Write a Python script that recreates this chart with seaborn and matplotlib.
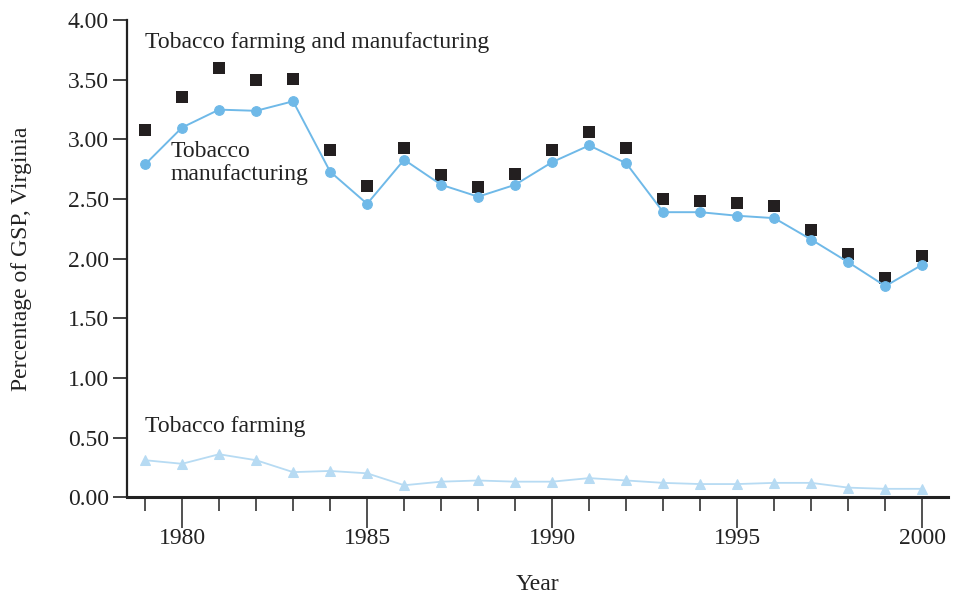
import numpy as np
import pandas as pd
import matplotlib
matplotlib.use("Agg")
import matplotlib.pyplot as plt
import seaborn as sns
from matplotlib.ticker import MultipleLocator, FormatStrFormatter

years = list(range(1979, 2001))
total = [3.08, 3.36, 3.60, 3.50, 3.51, 2.91, 2.61, 2.93, 2.70, 2.60, 2.71,
         2.91, 3.06, 2.93, 2.50, 2.48, 2.47, 2.44, 2.24, 2.04, 1.84, 2.02]
manufacturing = [2.79, 3.10, 3.25, 3.24, 3.32, 2.73, 2.46, 2.83, 2.62, 2.52, 2.62,
                 2.81, 2.95, 2.80, 2.39, 2.39, 2.36, 2.34, 2.16, 1.97, 1.77, 1.95]
farming = [0.31, 0.28, 0.36, 0.31, 0.21, 0.22, 0.20, 0.10, 0.13, 0.14, 0.13,
           0.13, 0.16, 0.14, 0.12, 0.11, 0.11, 0.12, 0.12, 0.08, 0.07, 0.07]

df = pd.DataFrame({"Year": years, "total": total,
                   "manufacturing": manufacturing, "farming": farming})

sns.set_theme(style="ticks")
plt.rcParams["font.family"] = ["Liberation Serif", "DejaVu Serif"]

fig = plt.figure(figsize=(9.54, 5.94), dpi=100)
ax = fig.add_axes([0.133, 0.163, 0.861, 0.803])

blue = "#6fb9e8"
light = "#b7dbf3"
dark = "#231f20"

sns.lineplot(data=df, x="Year", y="farming", ax=ax, color=light, lw=1.3,
             marker="^", markersize=7, markeredgecolor=light)
sns.lineplot(data=df, x="Year", y="manufacturing", ax=ax, color=blue, lw=1.4,
             marker="o", markersize=7, markeredgecolor=blue)
sns.scatterplot(data=df, x="Year", y="total", ax=ax, color=dark, marker="s",
                s=70, edgecolor=dark, linewidth=0)

ax.set_xlim(1978.51, 2000.7)
ax.set_ylim(0, 4.0)
ax.yaxis.set_major_locator(MultipleLocator(0.5))
ax.yaxis.set_major_formatter(FormatStrFormatter("%.2f"))
ax.xaxis.set_major_locator(MultipleLocator(5))
ax.xaxis.set_minor_locator(MultipleLocator(1))

for s in ["top", "right"]:
    ax.spines[s].set_visible(False)
ax.spines["left"].set_linewidth(1.6)
ax.spines["bottom"].set_linewidth(2.2)
ax.spines["left"].set_color("#222222")
ax.spines["bottom"].set_color("#222222")

ax.tick_params(axis="y", which="major", length=10, width=1.3, color="#333333",
               labelsize=17, pad=3, labelcolor="#222222")
ax.tick_params(axis="x", which="major", length=22, width=1.2, color="#333333",
               labelsize=17, pad=0, labelcolor="#222222")
ax.tick_params(axis="x", which="minor", length=10, width=1.2, color="#333333")

ax.set_xlabel("Year", fontsize=17, labelpad=18, color="#222222")
ax.set_ylabel("Percentage of GSP, Virginia", fontsize=17, labelpad=26, color="#222222")

ax.text(1979.0, 3.81, "Tobacco farming and manufacturing", fontsize=17,
        va="center", ha="left", color="#222222")
ax.text(1979.7, 2.80, "Tobacco\nmanufacturing", fontsize=17,
        va="center", ha="left", color="#222222", linespacing=1.15)
ax.text(1979.0, 0.59, "Tobacco farming", fontsize=17,
        va="center", ha="left", color="#222222")

fig.savefig("out.png", dpi=100)
